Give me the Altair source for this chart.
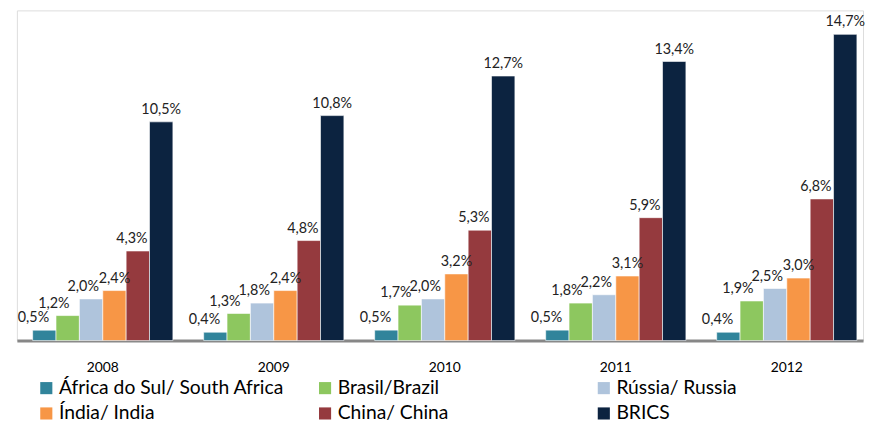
import altair as alt
import pandas as pd

years = ["2008", "2009", "2010", "2011", "2012"]
series = ["África do Sul/ South Africa", "Brasil/Brazil", "Rússia/ Russia",
          "Índia/ India", "China/ China", "BRICS"]
colors = ["#31849B", "#8DC75F", "#AFC4DC", "#F79646", "#953A3E", "#0C2340"]
values = {
    "África do Sul/ South Africa": [0.5, 0.4, 0.5, 0.5, 0.4],
    "Brasil/Brazil": [1.2, 1.3, 1.7, 1.8, 1.9],
    "Rússia/ Russia": [2.0, 1.8, 2.0, 2.2, 2.5],
    "Índia/ India": [2.4, 2.4, 3.2, 3.1, 3.0],
    "China/ China": [4.3, 4.8, 5.3, 5.9, 6.8],
    "BRICS": [10.5, 10.8, 12.7, 13.4, 14.7],
}
# horizontal nudge of each series' labels (as in the original layout)
label_dx = [-11, -14, -8, 0, -6, 0]

rows = []
for s in series:
    for y, v in zip(years, values[s]):
        rows.append({"year": y, "series": s, "value": v,
                     "label": f"{v:.1f}".replace(".", ",") + "%"})
df = pd.DataFrame(rows)

x = alt.X("year:N", title=None, sort=years,
          scale=alt.Scale(paddingInner=0.18, paddingOuter=0.064, align=0.72),
          axis=alt.Axis(labelAngle=0, ticks=False, labelPadding=20,
                        domainColor="#878787", domainWidth=3,
                        labelFont="Lato", labelFontSize=14, labelColor="#000000"))
xo = alt.XOffset("series:N", sort=series,
                 scale=alt.Scale(domain=series, paddingInner=0, paddingOuter=0))
y = alt.Y("value:Q", scale=alt.Scale(domain=[0, 15.85]), axis=None)

bars = alt.Chart(df).mark_bar(stroke="white", strokeWidth=0.6).encode(
    x=x, xOffset=xo, y=y,
    color=alt.Color("series:N", sort=series,
                    scale=alt.Scale(domain=series, range=colors),
                    legend=alt.Legend(title=None, orient="none", legendX=20, legendY=372,
                                      direction="horizontal", columns=3,
                                      gridAlign="all", columnPadding=31, rowPadding=5,
                                      symbolType="square", symbolSize=150,
                                      symbolStrokeWidth=0, labelFont="Lato",
                                      labelFontSize=19.5, labelColor="#000000",
                                      labelLimit=400, labelOffset=3)),
)

layers = [bars]
for s, d in zip(series, label_dx):
    layers.append(
        alt.Chart(df).transform_filter(alt.datum.series == s)
        .mark_text(baseline="bottom", dy=-5, dx=d, font="Lato",
                   fontSize=14.5, color="#222222")
        .encode(x=x, xOffset=xo, y=y, text="label:N")
    )

chart = alt.layer(*layers).properties(
    width=856, height=334,
    padding={"left": 9, "top": 0, "right": 0, "bottom": 0},
).configure_view(stroke=None).configure(background="white")

chart.save("out.html", embed_options={"renderer": "svg", "actions": False})
